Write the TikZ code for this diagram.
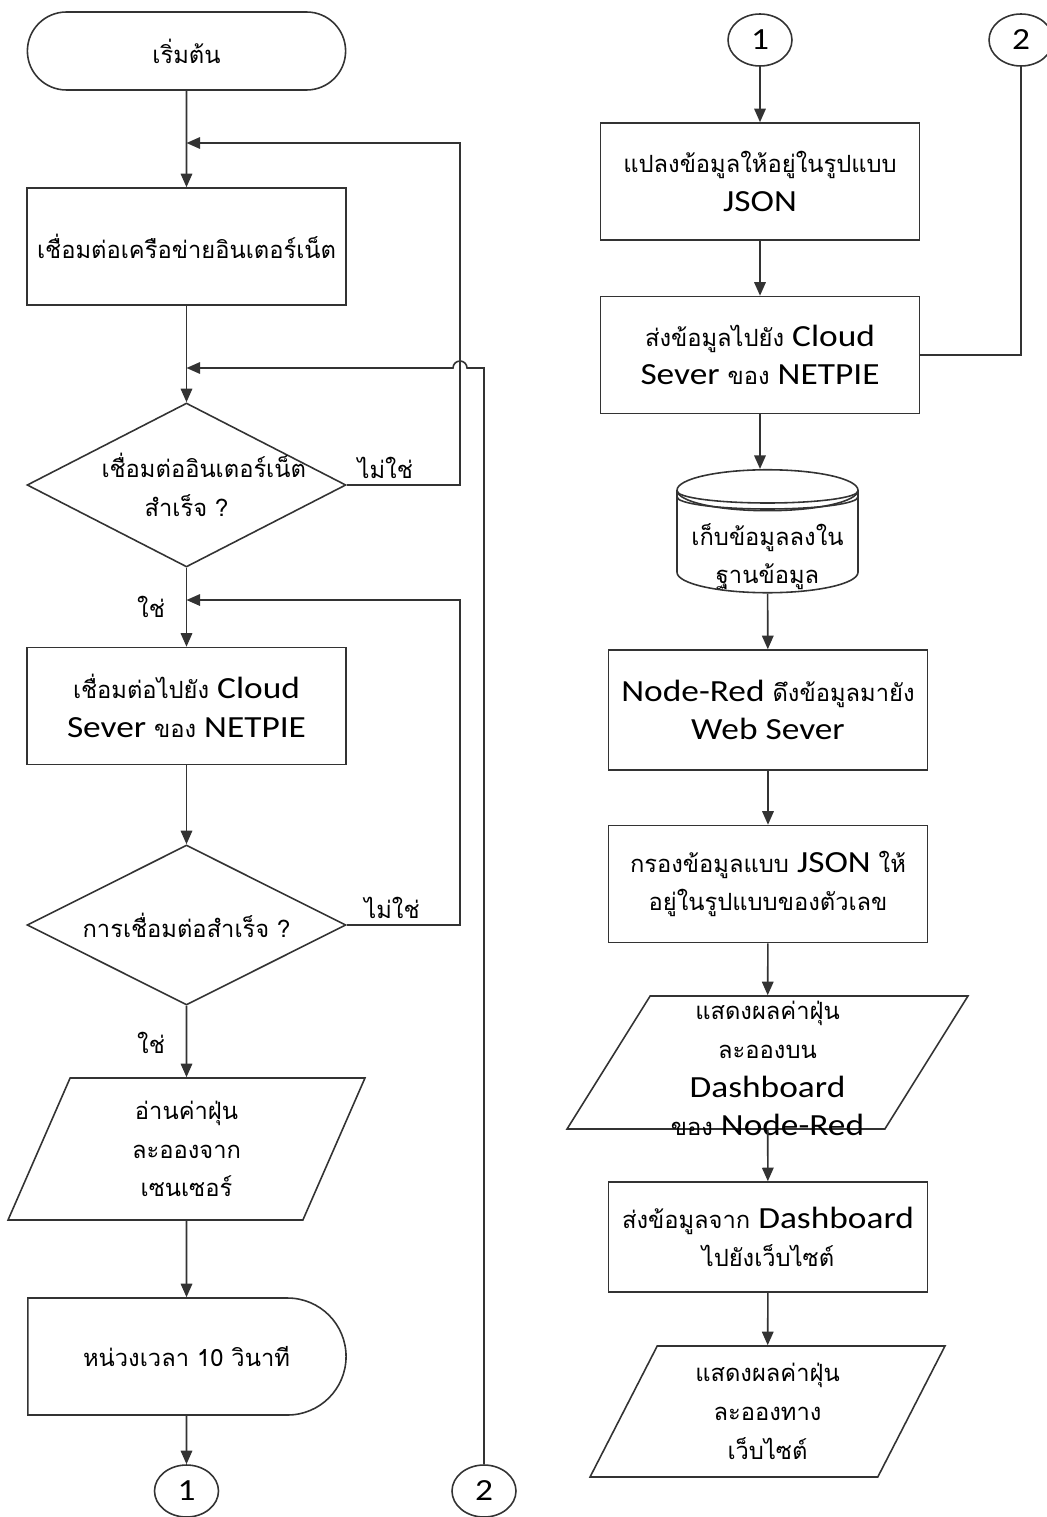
\documentclass[tikz,border=0pt]{standalone}
\usepackage{fontspec}
\setmainfont[FakeStretch=1.15]{Carlito}
\newfontfamily\thaifont[Script=Thai]{Loma}
\usetikzlibrary{shapes.geometric,shapes.misc,arrows.meta}
\newcommand\en[1]{{\rmfamily\fontsize{17.5}{22}\selectfont #1}}
\newcommand\flatstack[2]{\smash{\raisebox{#1}{\begin{tabular}{@{}c@{}}#2\end{tabular}}}}

\begin{document}
\begin{tikzpicture}[x=0.02cm, y=-0.02cm, >={Triangle[length=0.27cm,width=0.23cm]},
    line width=0.9pt, draw=black!80,
    every node/.style={font=\thaifont\fontsize{13.5}{22}\selectfont, align=center},
    box/.style={rectangle, draw=black!80, minimum width=6.38cm, minimum height=2.34cm},
    term/.style={rounded rectangle, draw=black!80, minimum width=6.6cm, minimum height=1.56cm},
    dec/.style={diamond, draw=black!80, aspect=2, inner sep=0pt, text width=3.4cm,
      minimum width=6.38cm, minimum height=3.28cm},
    io/.style={trapezium, trapezium left angle=60, trapezium right angle=120,
      trapezium stretches body, draw=black!80, minimum width=7.14cm, minimum height=2.84cm},
    wait/.style={rounded rectangle, rounded rectangle west arc=none, draw=black!80,
      minimum width=6.6cm, minimum height=2.34cm},
    store/.style={cylinder, shape border rotate=90, aspect=0.25, draw=black!80,
      minimum width=3.62cm, minimum height=2.46cm},
    conn/.style={ellipse, draw=black!80, inner sep=0pt, minimum width=1.28cm,
      minimum height=1.04cm, font=\rmfamily\fontsize{17.5}{20}\selectfont}]
  \useasboundingbox (0,0) rectangle (1047,1517);

  % left column
  \node[term] (S) at (186.5,51) {เริ่มต้น};
  \node[box] (N) at (186.5,246.5) {เชื่อมต่อเครือข่ายอินเตอร์เน็ต};
  \node[dec] (D1) at (186.5,485) {เชื่อมต่ออินเตอร์เน็ต\\สำเร็จ ?};
  \node[box] (C) at (186.5,706) {เชื่อมต่อไปยัง \en{Cloud}\\\en{Sever} ของ \en{NETPIE}};
  \node[dec, text width=4.8cm, minimum height=3.2cm] (D2) at (186.5,925) {การเชื่อมต่อสำเร็จ ?};
  \node[io] (R) at (186.5,1149) {อ่านค่าฝุ่น\\ละอองจาก\\เซนเซอร์};
  \node[wait] (D) at (186.5,1356.5) {หน่วงเวลา 10 วินาที};
  \node[conn] (A1) at (186.5,1491) {1};
  \node[conn] (A2) at (484,1491) {2};

  \coordinate (m1) at (186.5,143);
  \coordinate (k1) at (460,143);
  \coordinate (m2) at (186.5,600);
  \coordinate (k2) at (460,600);
  \coordinate (m3) at (186.5,368);
  \coordinate (k3) at (467,368);

  \draw[->] (S) -- (N);
  \draw[->] (N) -- (D1);
  \draw[->] (D1) -- node[left=0.3cm] (y1) {ใช่} (C);
  \draw[->] (D1.east) -| node[above, pos=0.17] (n1) {ไม่ใช่} (k1) -- (m1);
  \draw[->] (C) -- (D2);
  \draw[->] (D2) -- node[left=0.3cm, pos=0.52] (y2) {ใช่} (R);
  \draw[->] (D2.east) -| node[above, pos=0.2] (n2) {ไม่ใช่} (k2) -- (m2);
  \draw[->] (R) -- (D);
  \draw[->] (D) -- (A1);
  \draw[->] (A2.north) |- (k3) arc[start angle=0, end angle=180, radius=0.14cm] -- (m3);

  % right column
  \node[conn] (B1) at (760,40) {1};
  \node[conn] (B2) at (1021,40) {2};
  \node[box] (J) at (760,181.5) {แปลงข้อมูลให้อยู่ในรูปแบบ\\\en{JSON}};
  \node[box] (SC) at (760,355) {ส่งข้อมูลไปยัง \en{Cloud}\\\en{Sever} ของ \en{NETPIE}};
  \node[store] (DB) at (767.5,545.5) {\flatstack{-10pt}{เก็บข้อมูลลงใน\\ฐานข้อมูล}};
  \draw (677,491) arc[start angle=180, end angle=360, x radius=1.81cm, y radius=0.24cm];
  \draw (677,497) arc[start angle=180, end angle=360, x radius=1.81cm, y radius=0.24cm];
  \node[box, minimum height=2.4cm] (NR) at (768,710) {\en{Node-Red} ดึงข้อมูลมายัง\\\en{Web Sever}};
  \node[box] (F) at (768,884) {กรองข้อมูลแบบ \en{JSON} ให้\\อยู่ในรูปแบบของตัวเลข};
  \node[io, trapezium left angle=58, trapezium right angle=122, minimum width=8.02cm,
    minimum height=2.66cm, inner ysep=1.33cm] (DS) at (767.5,1062.5)
    {\flatstack{-8pt}{แสดงผลค่าฝุ่น\\ละอองบน\\\en{Dashboard}\\ของ \en{Node-Red}}};
  \node[box, minimum height=2.2cm] (W) at (768,1237) {ส่งข้อมูลจาก \en{Dashboard}\\ไปยังเว็บไซต์};
  \node[io, trapezium left angle=58, trapezium right angle=122, minimum width=7.1cm,
    minimum height=2.62cm] (WS) at (767.5,1411.5) {แสดงผลค่าฝุ่น\\ละอองทาง\\เว็บไซต์};

  \draw[->] (B1) -- (J);
  \draw[->] (J) -- (SC);
  \draw (SC.east) -| (B2);
  \draw[->] (SC.south) -- (SC.south |- DB.north);
  \draw[->] (DB) -- (NR);
  \draw[->] (NR) -- (F);
  \draw[->] (F) -- (DS);
  \draw[->] (DS) -- (W);
  \draw[->] (W) -- (WS);
\end{tikzpicture}
\end{document}
